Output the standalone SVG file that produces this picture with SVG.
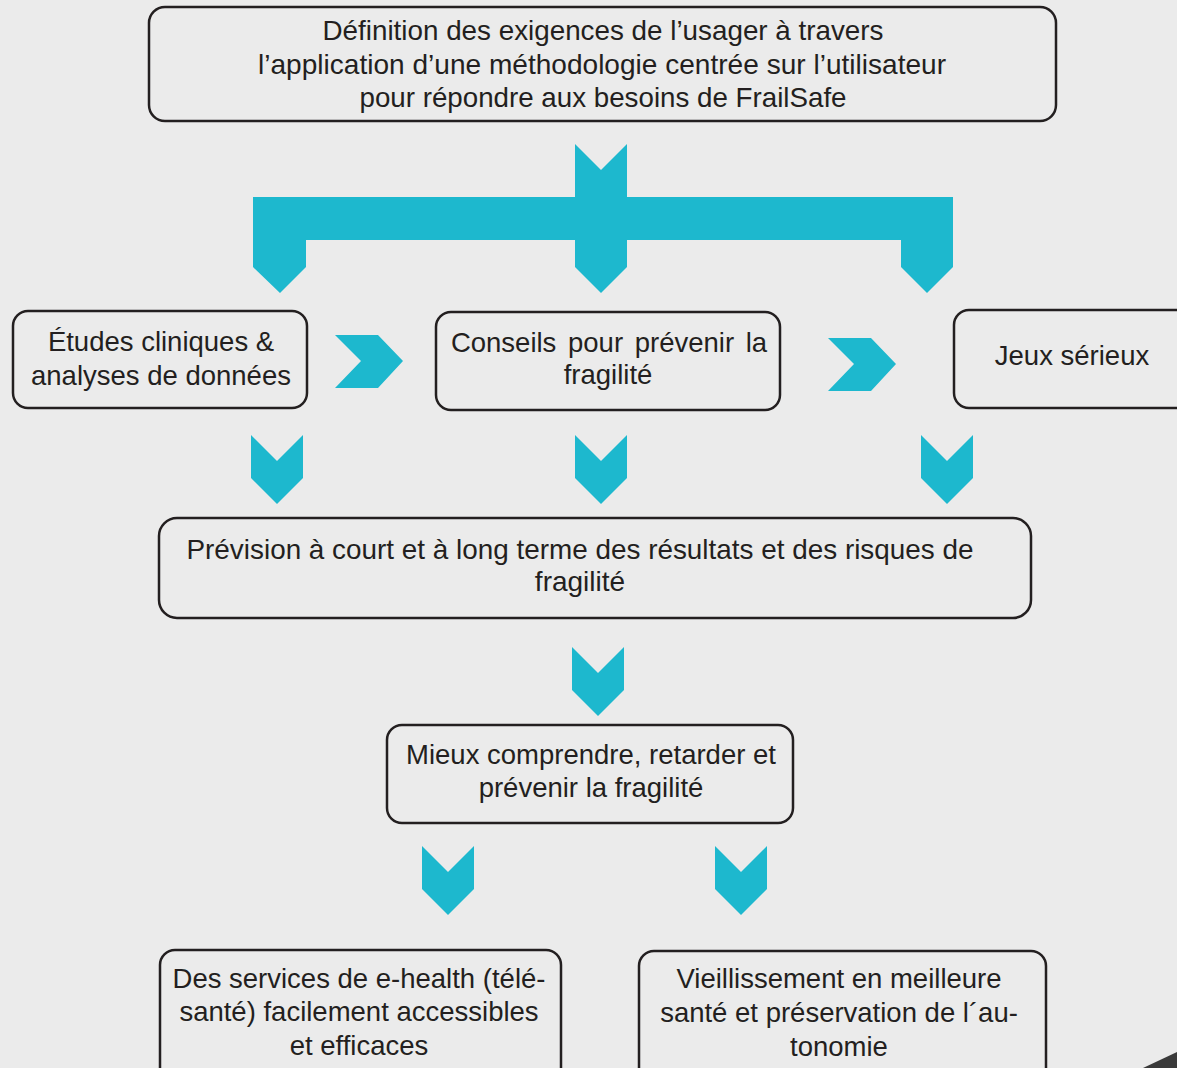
<svg xmlns="http://www.w3.org/2000/svg" width="1177" height="1068" viewBox="0 0 1177 1068">
<style>
.box{fill:#ebebeb;stroke:#231f20;stroke-width:2.5}
.t{font-family:"Liberation Sans",Arial,sans-serif;font-size:27.5px;fill:#231f20;text-anchor:middle}
.c{font-family:"Liberation Sans",Arial,sans-serif;font-size:28px;fill:#231f20;text-anchor:middle}
.arr{fill:#1db8ce}
</style>
<rect width="1177" height="1068" fill="#ebebeb"/>
<g id="connectors">
<polygon class="arr" points="575,144 601,170 627,144 627,197 953,197 953,267 927,293 901,267 901,240 627,240 627,267 601,293 575,267 575,240 306,240 306,267 280,293 253,267 253,197 575,197"/>
<polygon class="arr" points="335,335 378,335 403,361 378,388 335,388 361,361"/>
<polygon class="arr" points="828,338 871,338 896,364 871,391 828,391 854,364"/>
<polygon class="arr" points="251,435 277,461 303,435 303,478 277,504 251,478"/>
<polygon class="arr" points="575,435 601,461 627,435 627,478 601,504 575,478"/>
<polygon class="arr" points="921,435 947,461 973,435 973,478 947,504 921,478"/>
<polygon class="arr" points="572,647 598,673 624,647 624,690 598,716 572,690"/>
<polygon class="arr" points="422,846 448,872 474,846 474,889 448,915 422,889"/>
<polygon class="arr" points="715,846 741,872 767,846 767,889 741,915 715,889"/>
</g>
<g id="n1">
<rect class="box" x="149" y="7" width="907" height="114" rx="16"/>
<text class="c" x="603" y="40" textLength="561" lengthAdjust="spacingAndGlyphs">Définition des exigences de l’usager à travers</text>
<text class="c" x="602" y="74" textLength="688" lengthAdjust="spacingAndGlyphs">l’application d’une méthodologie centrée sur l’utilisateur</text>
<text class="c" x="603" y="107" textLength="487" lengthAdjust="spacingAndGlyphs">pour répondre aux besoins de FrailSafe</text>
</g>
<g id="n2">
<rect class="box" x="13" y="311" width="294" height="97" rx="15"/>
<text class="t" x="161" y="351">Études cliniques &amp;</text>
<text class="t" x="161" y="385">analyses de données</text>
</g>
<g id="n3">
<rect class="box" x="436" y="312" width="344" height="98" rx="15"/>
<text class="t" x="609" y="352" word-spacing="4">Conseils pour prévenir la</text>
<text class="t" x="608" y="384">fragilité</text>
</g>
<g id="n4">
<rect class="box" x="954" y="310" width="260" height="98" rx="15"/>
<text class="t" x="1072" y="365">Jeux sérieux</text>
</g>
<g id="n5">
<rect class="box" x="159" y="518" width="872" height="100" rx="18"/>
<text class="c" x="580" y="559" textLength="787" lengthAdjust="spacingAndGlyphs">Prévision à court et à long terme des résultats et des risques de</text>
<text class="c" x="580" y="591">fragilité</text>
</g>
<g id="n6">
<rect class="box" x="387" y="725" width="406" height="98" rx="15"/>
<text class="t" x="591" y="764">Mieux comprendre, retarder et</text>
<text class="t" x="591" y="797">prévenir la fragilité</text>
</g>
<g id="n7">
<rect class="box" x="160" y="950" width="401" height="140" rx="15"/>
<text class="t" x="359" y="988">Des services de e-health (télé-</text>
<text class="t" x="359" y="1021">santé) facilement accessibles</text>
<text class="t" x="359" y="1055">et efficaces</text>
</g>
<g id="n8">
<rect class="box" x="639" y="951" width="407" height="140" rx="15"/>
<text class="t" x="839" y="988">Vieillissement en meilleure</text>
<text class="t" x="839" y="1022">santé et préservation de l´au-</text>
<text class="t" x="839" y="1056">tonomie</text>
</g>
<polygon points="1143,1068 1177,1052 1177,1068" fill="#3a3a3a"/>
</svg>
